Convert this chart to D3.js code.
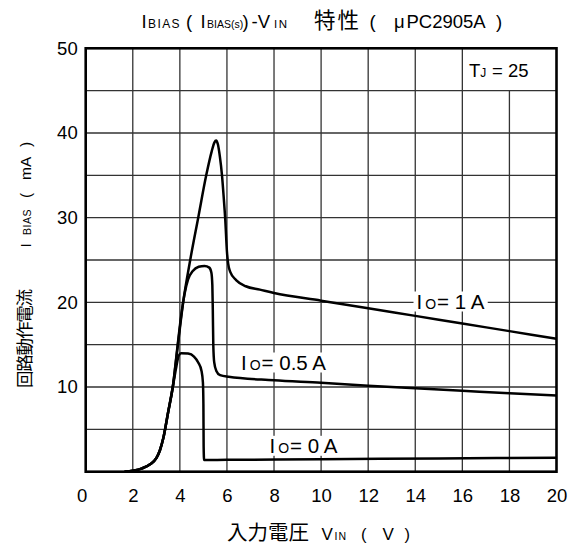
<!DOCTYPE html>
<html><head><meta charset="utf-8">
<script src="https://cdn.jsdelivr.net/npm/d3@7"></script>
<style>
html,body{margin:0;padding:0;background:#fff;}
svg{display:block;}
</style>
</head><body>
<svg id="chart" width="586" height="547"></svg>
<script>
// ---- data ----
const xTicks = [0, 2, 4, 6, 8, 10, 12, 14, 16, 18, 20];
const yTicks = [10, 20, 30, 40, 50];
const xGrid = [2, 4, 6, 8, 10, 12, 14, 16, 18];
const yGrid = [5, 10, 15, 20, 25, 30, 35, 40, 45];
// [V_IN (V), I_BIAS (mA)]
const io1A = [[1.65,0],[2.0,0.12],[2.4,0.4],[2.75,0.9],[3.0,1.6],[3.15,2.5],[3.3,4.0],[3.5,7.0],[3.7,10.0],[3.9,14.6],[4.14,20.0],[4.44,25.0],[4.78,30.0],[5.12,35.0],[5.35,37.8],[5.47,38.9],[5.54,39.1],[5.62,38.6],[5.7,37.2],[5.79,35.0],[5.86,32.5],[5.93,29.7],[6.0,26.0],[6.05,24.6],[6.14,23.6],[6.4,22.6],[6.8,21.9],[7.4,21.5],[8.0,21.1],[10,20.2],[12,19.3],[14,18.4],[16,17.5],[18,16.6],[20,15.7]];
const io05A = [[1.65,0],[2.0,0.12],[2.4,0.4],[2.75,0.9],[3.0,1.6],[3.15,2.5],[3.3,4.0],[3.5,7.0],[3.7,10.0],[3.9,14.8],[4.05,18.3],[4.2,21.0],[4.35,22.7],[4.55,23.7],[4.8,24.2],[5.05,24.3],[5.25,24.1],[5.34,23.5],[5.38,22.0],[5.4,19.0],[5.42,15.0],[5.46,12.9],[5.55,11.9],[5.71,11.4],[6.07,11.2],[8,10.8],[10,10.5],[12,10.15],[14,9.85],[16,9.55],[18,9.25],[20,9.0]];
const io0A = [[1.65,0],[2.0,0.12],[2.4,0.4],[2.75,0.9],[3.0,1.6],[3.15,2.5],[3.3,4.0],[3.5,7.0],[3.7,10.0],[3.85,12.4],[3.95,13.7],[4.05,14.0],[4.35,13.95],[4.6,13.6],[4.78,12.9],[4.92,11.9],[4.98,10.5],[5.0,8.0],[5.01,3.0],[5.03,1.38],[6,1.4],[10,1.47],[15,1.56],[20,1.65]];
const tjValue = 25;

// ---- layout ----
const LAT = "'Liberation Sans', Arial, Helvetica, sans-serif";
const CJK = "'Noto Sans CJK JP', 'Noto Sans CJK SC', sans-serif";
const svg = d3.select('#chart');
const x = d3.scaleLinear().domain([0, 20]).range([85.7, 556.5]);
const y = d3.scaleLinear().domain([0, 50]).range([471.7, 48.3]);
const GRID = '#333';

// grid
const g = svg.append('g');
g.selectAll('line.vg').data(xGrid).join('line')
  .attr('x1', d => x(d)).attr('x2', d => x(d))
  .attr('y1', d => d === 18 ? y(45) : y(50)).attr('y2', y(0))
  .attr('stroke', GRID).attr('stroke-width', 1.3);
g.selectAll('line.hg').data(yGrid).join('line')
  .attr('x1', x(0)).attr('x2', x(20))
  .attr('y1', d => y(d)).attr('y2', d => y(d))
  .attr('stroke', GRID).attr('stroke-width', 1.3);

// labels for curves (with white backgrounds)
function ioLabel(tx, ty, val) {
  const t = svg.append('text').attr('x', tx).attr('y', ty)
    .attr('font-family', LAT).attr('font-size', 20.5).attr('fill', '#000');
  t.append('tspan').text('I');
  t.append('tspan').attr('font-size', 14).attr('dx', 3).text('O');
  t.append('tspan').attr('dx', 1).text('= ' + val + ' A');
  return t;
}
const bgLayer = svg.append('g');
const lineLayer = svg.append('g');
const labels = [
  ioLabel(416.5, 308.5, '1'),
  ioLabel(241, 369.5, '0.5'),
  ioLabel(269.5, 452.8, '0')
];
labels.forEach(t => {
  const b = t.node().getBBox();
  bgLayer.append('rect').attr('x', b.x - 3).attr('y', b.y + 2)
    .attr('width', b.width + 6).attr('height', b.height - 3).attr('fill', '#fff');
});

// curves
const line = d3.line().x(d => x(d[0])).y(d => y(d[1])).curve(d3.curveMonotoneX);
[io1A, io05A, io0A].forEach(s => {
  lineLayer.append('path').datum(s).attr('d', line)
    .attr('fill', 'none').attr('stroke', '#000').attr('stroke-width', 2.5)
    .attr('stroke-linejoin', 'round');
});
labels.forEach(t => t.raise());

// frame
svg.append('rect').attr('x', x(0)).attr('y', y(50))
  .attr('width', x(20) - x(0)).attr('height', y(0) - y(50))
  .attr('fill', 'none').attr('stroke', '#000').attr('stroke-width', 2.6);

// axes tick labels via d3 axes
const xAxis = svg.append('g').attr('transform', `translate(0,${y(0)})`)
  .call(d3.axisBottom(x).tickValues(xTicks).tickSize(0).tickPadding(17).tickFormat(d3.format('d')));
xAxis.select('.domain').remove();
xAxis.selectAll('text').attr('font-family', LAT).attr('font-size', 18.5).attr('fill', '#000')
  .attr('dx', d => d === 0 ? -4 : 0);
const yAxis = svg.append('g').attr('transform', `translate(${x(0)},0)`)
  .call(d3.axisLeft(y).tickValues(yTicks).tickSize(0).tickPadding(8).tickFormat(d3.format('d')));
yAxis.select('.domain').remove();
yAxis.selectAll('text').attr('font-family', LAT).attr('font-size', 18.5).attr('fill', '#000');

// TJ label
const tj = svg.append('text').attr('x', 469).attr('y', 76.8)
  .attr('font-family', LAT).attr('font-size', 18.5).attr('fill', '#000');
tj.append('tspan').text('T');
tj.append('tspan').attr('font-size', 12).text('J');
tj.append('tspan').attr('x', 492).text('= ' + tjValue);

// generic piece writer
function pieces(parent, arr, baseline) {
  arr.forEach(p => {
    parent.append('text').attr('x', p.x).attr('y', baseline)
      .attr('font-family', p.f || LAT).attr('font-size', p.s)
      .attr('letter-spacing', p.ls || 0).attr('fill', '#000').text(p.t);
  });
}

// title
pieces(svg, [
  {t: 'I', x: 141.5, s: 18.5},
  {t: 'BIAS', x: 148, s: 12, ls: 1.4},
  {t: '(', x: 186, s: 18.5},
  {t: 'I', x: 200.5, s: 18.5},
  {t: 'BIAS(s)', x: 207, s: 10.5},
  {t: ')', x: 242.5, s: 18.5},
  {t: '-V', x: 251.5, s: 18.5},
  {t: 'IN', x: 274, s: 11.5, ls: 1.5},
  {t: '特性', x: 314, s: 21.5, f: CJK, ls: 2},
  {t: '(', x: 369.5, s: 18.5},
  {t: 'μ', x: 394, s: 18.5},
  {t: 'PC2905A', x: 406.5, s: 18.5},
  {t: ')', x: 496, s: 18.5}
], 27.5);

// x axis title
pieces(svg, [
  {t: '入力電圧', x: 227, s: 20.5, f: CJK},
  {t: 'V', x: 321.5, s: 17},
  {t: 'IN', x: 334.5, s: 10.5, ls: 1},
  {t: '(', x: 361, s: 16.5},
  {t: 'V', x: 382.5, s: 17},
  {t: ')', x: 404.5, s: 16.5}
], 539.5);

// y axis title (rotated)
const yl = svg.append('g').attr('transform', 'translate(31,0) rotate(-90)');
[
  {t: '回路動作電流', p: 388, s: 17.5, f: CJK, ls: -1.2},
  {t: 'I', p: 247.5, s: 15.5},
  {t: 'BIAS', p: 235, s: 10.5, ls: 0.5},
  {t: '(', p: 198, s: 15.5},
  {t: 'mA', p: 180, s: 15.5},
  {t: ')', p: 147, s: 15.5}
].forEach(q => {
  yl.append('text').attr('x', -q.p).attr('y', 0)
    .attr('font-family', q.f || LAT).attr('font-size', q.s)
    .attr('letter-spacing', q.ls || 0).attr('fill', '#000').text(q.t);
});
</script>
</body></html>
